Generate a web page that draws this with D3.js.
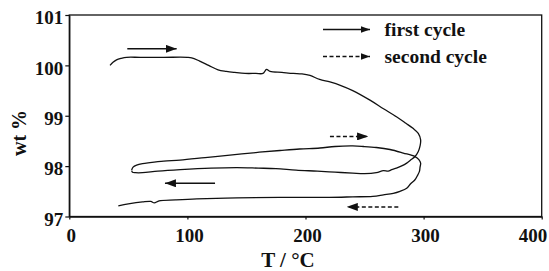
<!DOCTYPE html>
<html><head><meta charset="utf-8">
<script src="https://cdn.jsdelivr.net/npm/d3@7"></script>
<style>body{margin:0;background:#fff} svg{display:block}</style>
</head><body><svg id="c" width="549" height="271"></svg>
<script>
// ---- data (T in °C, wt in %) ----
const firstCycleT  = [34.5, 37, 40, 44, 48.6, 60, 80, 100, 103.6, 110, 118, 126, 133, 140, 148.8, 158, 164, 167, 170, 180, 189.7, 197, 203.8, 212, 220.7, 230, 240, 254.6, 266, 277, 285, 291, 295.5, 297.5, 297, 295.5, 292.7, 289, 285.7, 281, 277, 273, 270, 266, 260, 250, 240, 225, 210, 192, 175, 160, 142, 120, 94, 75, 62, 56, 53.5, 52.8];
const firstCycleWt = [100.0, 100.06, 100.11, 100.14, 100.16, 100.16, 100.16, 100.16, 100.15, 100.09, 100.0, 99.91, 99.88, 99.86, 99.84, 99.84, 99.84, 99.92, 99.88, 99.86, 99.84, 99.83, 99.80, 99.72, 99.67, 99.60, 99.50, 99.31, 99.14, 98.98, 98.85, 98.75, 98.65, 98.52, 98.40, 98.29, 98.19, 98.12, 98.06, 98.00, 97.96, 97.93, 97.90, 97.91, 97.87, 97.85, 97.86, 97.88, 97.90, 97.92, 97.95, 97.96, 97.97, 97.96, 97.93, 97.90, 97.87, 97.87, 97.88, 97.91];
const secondCycleT  = [52.8, 54, 57, 62, 68.3, 80, 93.7, 115, 136, 158, 178.4, 195, 212.2, 225, 240, 249, 260, 271.5, 282.8, 292.7, 296, 297.5, 297, 296.4, 294.5, 292.7, 289, 285.7, 280, 274.3, 266, 257, 240, 220, 180, 142, 108, 90, 76, 72, 69, 62, 50, 41.5];
const secondCycleWt = [97.92, 97.98, 98.02, 98.05, 98.07, 98.10, 98.12, 98.17, 98.22, 98.27, 98.31, 98.34, 98.36, 98.39, 98.40, 98.39, 98.37, 98.33, 98.26, 98.19, 98.13, 98.06, 97.98, 97.89, 97.80, 97.73, 97.65, 97.56, 97.50, 97.46, 97.43, 97.40, 97.39, 97.38, 97.38, 97.37, 97.35, 97.33, 97.31, 97.27, 97.30, 97.29, 97.25, 97.21];

// direction arrows inside the plot: [T start, T end, wt, dashed]
const arrowT0   = [49.1, 220.7, 123.4, 278.6];
const arrowT1   = [90.9, 253.0, 81.0, 235.0];
const arrowWt   = [100.33, 98.59, 97.66, 97.19];
const arrowDash = [false, true, false, true];

const legendLabels = ["first cycle", "second cycle"];
const legendDash   = [false, true];

const tempTicks = [0, 100, 200, 300, 400];
const wtTicks   = [97, 98, 99, 100, 101];
const xTitle = "T / °C";
const yTitle = "wt %";

// ---- layout ----
const svg = d3.select("#c");
const L = 69.3, R = 541.7, T = 15, B = 216.5;
const FONT = "'Liberation Serif','Times New Roman',serif";
const INK = "#111";

const x = d3.scaleLinear().domain([0, 400]).range([L, R]);
const y = d3.scaleLinear().domain([97, 101]).range([B, T]);

const defs = svg.append("defs");
function marker(id, w, h) {
  defs.append("marker").attr("id", id)
    .attr("markerUnits", "userSpaceOnUse")
    .attr("markerWidth", w).attr("markerHeight", h)
    .attr("refX", w).attr("refY", h / 2)
    .attr("orient", "auto")
    .append("path").attr("d", `M0,0L${w},${h/2}L0,${h}Z`).attr("fill", INK);
}
marker("ah", 11, 8);
marker("ahs", 9, 6.5);

// frame
svg.append("rect").attr("x", L).attr("y", T).attr("width", R - L).attr("height", B - T)
  .attr("fill", "none").attr("stroke", INK).attr("stroke-width", 1.3);

// axes
const xAxis = svg.append("g").attr("transform", `translate(0,${B})`)
  .call(d3.axisBottom(x).tickValues(tempTicks).tickFormat(d3.format("d"))
    .tickSize(3).tickPadding(9.5).tickSizeOuter(0));
const yAxis = svg.append("g").attr("transform", `translate(${L},0)`)
  .call(d3.axisLeft(y).tickValues(wtTicks).tickFormat(d3.format("d"))
    .tickSize(4).tickPadding(2).tickSizeOuter(0));
[xAxis, yAxis].forEach(g => {
  g.attr("font-family", FONT).attr("font-size", 19).attr("font-weight", "bold");
  g.select(".domain").attr("stroke", INK).attr("stroke-width", 1.3);
  g.selectAll(".tick line").attr("stroke", INK).attr("stroke-width", 1.2);
  g.selectAll(".tick text").attr("fill", INK);
});
yAxis.selectAll(".tick text").attr("dy", "0.46em");
xAxis.selectAll(".tick text").attr("dx", 1.5);
xAxis.selectAll(".tick text").filter(d => d === 400).attr("text-anchor", "end").attr("dx", 5);

// axis titles
svg.append("text").attr("x", 288).attr("y", 267).attr("text-anchor", "middle")
  .attr("font-family", FONT).attr("font-weight", "bold").attr("font-size", 21).attr("fill", INK)
  .text(xTitle);
svg.append("text").attr("transform", "translate(26,133) rotate(-90)").attr("text-anchor", "middle")
  .attr("font-family", FONT).attr("font-weight", "bold").attr("font-size", 20).attr("fill", INK)
  .text(yTitle);

// curves
const line = d3.line().x(d => x(d[0])).y(d => y(d[1])).curve(d3.curveCatmullRom.alpha(0.5));
const series = [d3.zip(firstCycleT, firstCycleWt), d3.zip(secondCycleT, secondCycleWt)];
svg.append("g").selectAll("path").data(series).join("path")
  .attr("d", line).attr("fill", "none").attr("stroke", INK).attr("stroke-width", 1.3)
  .attr("stroke-linejoin", "round");

// direction arrows
svg.append("g").selectAll("line").data(d3.range(arrowT0.length)).join("line")
  .attr("x1", i => x(arrowT0[i])).attr("x2", i => x(arrowT1[i]))
  .attr("y1", i => y(arrowWt[i])).attr("y2", i => y(arrowWt[i]))
  .attr("stroke", INK).attr("stroke-width", 1.5)
  .attr("stroke-dasharray", i => arrowDash[i] ? "4,2.5" : null)
  .attr("marker-end", "url(#ah)");

// legend
const lg = svg.append("g").selectAll("g").data(legendLabels).join("g")
  .attr("transform", (d, i) => `translate(0,${[29.5, 56.5][i]})`);
lg.append("line").attr("x1", 323).attr("x2", 370).attr("y1", 0).attr("y2", 0)
  .attr("stroke", INK).attr("stroke-width", 1.4)
  .attr("stroke-dasharray", (d, i) => legendDash[i] ? "4,2.5" : null)
  .attr("marker-end", "url(#ahs)");
lg.append("text").attr("x", 384.5).attr("y", 6.5)
  .attr("font-family", FONT).attr("font-weight", "bold").attr("font-size", 19.5).attr("fill", INK)
  .text(d => d);
</script></body></html>
